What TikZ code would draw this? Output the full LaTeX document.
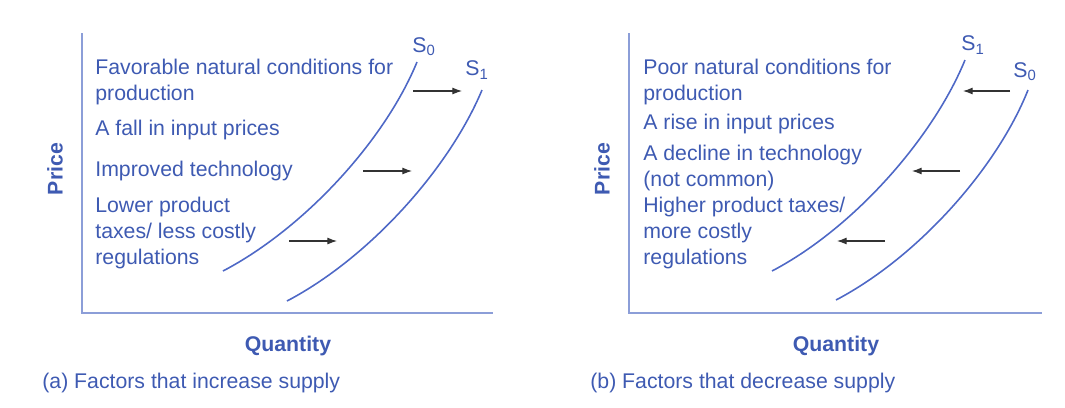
\documentclass[tikz,border=0pt]{standalone}
\usepackage{fontspec}
\setmainfont{Liberation Sans}
\usetikzlibrary{arrows.meta}
\definecolor{txtblue}{RGB}{62,90,178}
\definecolor{axblue}{RGB}{140,158,216}
\definecolor{curveblue}{RGB}{78,104,198}

\begin{document}
\begin{tikzpicture}[
        x=0.02cm, y=-0.02cm,
        >={Latex[length=5.5pt,width=4pt]},
        ax/.style={line width=1.2pt, axblue},
        sc/.style={line width=0.9pt, curveblue},
        sh/.style={->, line width=0.6pt, black!80},
        txt/.style={anchor=base west, align=left, inner sep=0pt, text=txtblue,
                    font=\fontsize{12.1}{14.75}\selectfont},
        lbl/.style={inner sep=0pt, text=txtblue, font=\fontsize{12.1}{14}\selectfont},
        ttl/.style={inner sep=0pt, text=txtblue, font=\bfseries\fontsize{12.1}{14}\selectfont}
    ]
    \useasboundingbox (0,0) rectangle (1065,407);

    % (a) axes
    \coordinate (ya) at (82,33);
    \coordinate (oa) at (82,313);
    \coordinate (xa) at (493,313);
    \draw[ax] (ya) -- (oa) -- (xa);
    \node[ttl, rotate=90] (pa) at (55,169) {Price};
    \node[ttl, anchor=base] (qa) at (288,351) {Quantity};
    \node[lbl, anchor=base west] (ca) at (42,388) {(a) Factors that increase supply};

    % (a) factors (base = last line)
    \node[txt] (fa1) at (95,100) {Favorable natural conditions for\\production};
    \node[txt] (fa2) at (95,135) {A fall in input prices};
    \node[txt] (fa3) at (95,176) {Improved technology};
    \node[txt] (fa4) at (95,264) {Lower product\\taxes/ less costly\\regulations};

    % (a) supply curves
    \draw[sc] (223,271) .. controls (305,228) and (385,140) .. (417,62);
    \draw[sc] (287,301) .. controls (369,258) and (449,169) .. (482,90);
    \node[lbl] (s0a) at (424,47) {S\textsubscript{0}};
    \node[lbl] (s1a) at (477,70) {S\textsubscript{1}};

    % (a) shifts to the right
    \coordinate (a1s) at (413,91);  \coordinate (a1e) at (462,91);
    \coordinate (a2s) at (363,171); \coordinate (a2e) at (412,171);
    \coordinate (a3s) at (289,241); \coordinate (a3e) at (337,241);
    \draw[sh] (a1s) -- (a1e);
    \draw[sh] (a2s) -- (a2e);
    \draw[sh] (a3s) -- (a3e);

    % (b) axes
    \coordinate (yb) at (629,33);
    \coordinate (ob) at (629,313);
    \coordinate (xb) at (1042,313);
    \draw[ax] (yb) -- (ob) -- (xb);
    \node[ttl, rotate=90] (pb) at (602,169) {Price};
    \node[ttl, anchor=base] (qb) at (836,351) {Quantity};
    \node[lbl, anchor=base west] (cb) at (590,388) {(b) Factors that decrease supply};

    % (b) factors (base = last line)
    \node[txt] (fb1) at (643,100) {Poor natural conditions for\\production};
    \node[txt] (fb2) at (643,129) {A rise in input prices};
    \node[txt] (fb3) at (643,186) {A decline in technology\\(not common)};
    \node[txt] (fb4) at (643,264) {Higher product taxes/\\more costly\\regulations};

    % (b) supply curves
    \draw[sc] (772,271) .. controls (854,228) and (933,138) .. (965,60);
    \draw[sc] (836,300) .. controls (918,257) and (997,168) .. (1028,90);
    \node[lbl] (s1b) at (973,45) {S\textsubscript{1}};
    \node[lbl] (s0b) at (1025,72) {S\textsubscript{0}};

    % (b) shifts to the left
    \coordinate (b1s) at (1010,91); \coordinate (b1e) at (963,91);
    \coordinate (b2s) at (960,171); \coordinate (b2e) at (912,171);
    \coordinate (b3s) at (885,241); \coordinate (b3e) at (837,241);
    \draw[sh] (b1s) -- (b1e);
    \draw[sh] (b2s) -- (b2e);
    \draw[sh] (b3s) -- (b3e);

\end{tikzpicture}
\end{document}
